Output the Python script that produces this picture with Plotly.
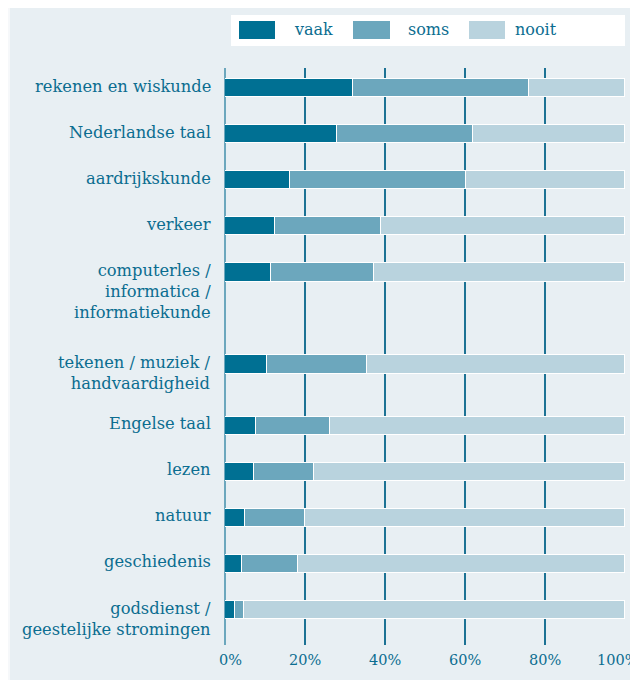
import plotly.graph_objects as go

# ---------------- data ----------------
categories = [
    "rekenen en wiskunde",
    "Nederlandse taal",
    "aardrijkskunde",
    "verkeer",
    "computerles /<br>informatica /<br>informatiekunde",
    "tekenen / muziek /<br>handvaardigheid",
    "Engelse taal",
    "lezen",
    "natuur",
    "geschiedenis",
    "godsdienst /<br>geestelijke stromingen",
]
vaak = [32, 28, 16.3, 12.4, 11.5, 10.5, 7.7, 7.2, 4.9, 4.3, 2.4]
soms = [44, 34, 44, 26.6, 25.7, 25, 18.5, 15, 15.1, 13.9, 2.4]
nooit = [24, 38, 39.7, 61, 62.8, 64.5, 73.8, 77.8, 80, 81.8, 95.2]
series_names = ["vaak", "soms", "nooit"]
tick_values = [0, 20, 40, 60, 80, 100]
tick_labels = ["0%", "20%", "40%", "60%", "80%", "100%"]

# ---------------- style ----------------
colors = ["#007093", "#6ca7bd", "#b9d3de"]
bg = "#e8eff3"
text_color = "#0b6d90"
font_family = "DejaVu Serif"
label_size = 16.3
tick_size = 14.5
line_h = 1.3 * label_size

OFF = 8  # page body margin
W, H = 638 - OFF, 680 - OFF
L, R, T, B = 225 - OFF, 13, 68 - OFF, 35
pw, ph = W - L - R, H - T - B


def px(xp):
    return (xp - OFF - L) / pw


def py(yp):
    return (H - B - (yp - OFF)) / ph


# row positions derived from number of label lines
pos = []
acc = 0.0
for c in categories:
    pos.append(acc)
    n = c.count("<br>") + 1
    acc += 1 + (n - 1) * n / 6

fig = go.Figure()
for name, vals, col in zip(series_names, [vaak, soms, nooit], colors):
    fig.add_trace(go.Bar(
        name=name, x=vals, y=pos, orientation="h", width=0.395,
        marker=dict(color=col, line=dict(color="white", width=1.5)),
        showlegend=False,
        hovertemplate="%{x}%<extra>" + name + "</extra>",
    ))

annotations = []
for c, p in zip(categories, pos):
    n = c.count("<br>") + 1
    annotations.append(dict(
        text=c, x=0, xref="paper", xanchor="right", xshift=-12,
        y=p, yref="y", yanchor="middle", yshift=-(n - 1) * line_h / 2 + 2,
        align="right", showarrow=False,
        font=dict(family=font_family, size=label_size, color=text_color),
    ))
for v, t in zip(tick_values, tick_labels):
    shift = 5 if v == tick_values[0] else (-8 if v == tick_values[-1] else 0)
    annotations.append(dict(
        text=t, x=v, xref="x", xanchor="center", xshift=shift,
        y=0, yref="paper", yanchor="top", yshift=-5,
        showarrow=False,
        font=dict(family=font_family, size=tick_size, color=text_color),
    ))

shapes = [
    # whitish left strip (the page margin supplies the rest)
    dict(type="rect", xref="paper", yref="paper", x0=px(OFF), x1=px(10),
         y0=py(H + OFF), y1=py(OFF), fillcolor="#f6f8fa", line_width=0, layer="below"),
    # legend box
    dict(type="rect", xref="paper", yref="paper", x0=px(231), x1=px(625),
         y0=py(46), y1=py(15), fillcolor="white", line_width=0, layer="below"),
]
legend_x = [(239, 275, 292), (353, 390, 406), (469, 505, 513)]
for (x0, x1, xt), name, col in zip(legend_x, series_names, colors):
    shapes.append(dict(type="rect", xref="paper", yref="paper",
                       x0=px(x0), x1=px(x1), y0=py(39), y1=py(21),
                       fillcolor=col, line_width=0))
    annotations.append(dict(
        text=name, x=px(xt), xref="paper", xanchor="left",
        y=py(30), yref="paper", yanchor="middle", showarrow=False,
        font=dict(family=font_family, size=16, color=text_color),
    ))

fig.update_layout(
    width=W, height=H,
    margin=dict(l=L, r=R, t=T, b=B, autoexpand=False),
    barmode="stack",
    paper_bgcolor=bg, plot_bgcolor="rgba(0,0,0,0)",
    font=dict(family=font_family, color=text_color),
    bargap=0,
    xaxis=dict(range=[0, 100], tickvals=tick_values, showticklabels=False,
               showgrid=True, gridcolor="#1c7294", gridwidth=1.5,
               zeroline=True, zerolinecolor="#6ca7bd", zerolinewidth=1.8,
               showline=False, fixedrange=True),
    yaxis=dict(range=[pos[-1] + 0.76, -0.44], showticklabels=False,
               showgrid=False, zeroline=False, showline=False, fixedrange=True),
    annotations=annotations,
    shapes=shapes,
    showlegend=False,
)

fig.write_html("out.html")
